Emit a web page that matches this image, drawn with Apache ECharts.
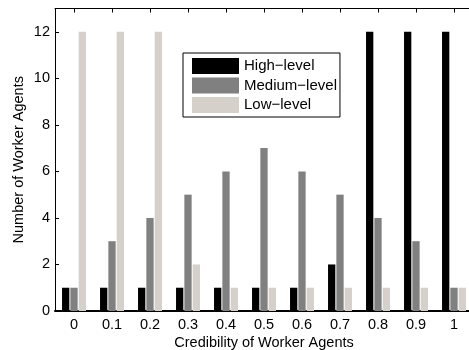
<!DOCTYPE html>
<html><head><meta charset="utf-8">
<script src="https://cdn.jsdelivr.net/npm/echarts@6/dist/echarts.min.js"></script>
<style>html,body{margin:0;padding:0;background:#fff}#c{width:469px;height:350px}</style>
</head><body><div id="c"></div>
<script>
const categories = ['0','0.1','0.2','0.3','0.4','0.5','0.6','0.7','0.8','0.9','1'];
const highLevel = [1,1,1,1,1,1,1,2,12,12,12];
const mediumLevel = [1,3,4,5,6,7,6,5,4,3,1];
const lowLevel = [12,12,12,2,1,1,1,1,1,1,1];
const yTicks = [0,2,4,6,8,10,12];

const font = 'Liberation Sans, Arial, Helvetica, sans-serif';
const fs = 14.5;
const chart = echarts.init(document.getElementById('c'), null, {renderer:'canvas'});
const tickCfg = {show:true, inside:true, length:4, lineStyle:{color:'#000', width:1}};
chart.setOption({
  animation:false,
  backgroundColor:'#fff',
  grid:{left:55, right:-4, top:8.5, bottom:39, containLabel:false, outerBoundsMode:'none'},
  legend:{
    orient:'vertical', left:183, top:53,
    backgroundColor:'#fff', borderColor:'#000', borderWidth:1,
    padding:[5,3,4,9], itemWidth:47, itemHeight:16, itemGap:3.5,
    icon:'rect',
    textStyle:{fontFamily:font, fontSize:15, color:'#000'},
    data:['High\u2212level','Medium\u2212level','Low\u2212level']
  },
  xAxis:[{
    type:'category', data:categories, boundaryGap:true,
    axisLine:{show:true, onZero:false, lineStyle:{color:'#000', width:2}},
    axisTick:Object.assign({alignWithLabel:true}, tickCfg),
    axisLabel:{fontFamily:font, fontSize:fs, color:'#000', margin:6},
    name:'Credibility of Worker Agents', nameLocation:'middle', nameGap:24, nameMoveOverlap:false,
    nameTextStyle:{fontFamily:font, fontSize:fs, color:'#000'},
    splitLine:{show:false}
  },{
    type:'category', data:categories, position:'top', boundaryGap:true,
    axisLine:{show:true, onZero:false, lineStyle:{color:'#000', width:1}},
    axisTick:Object.assign({alignWithLabel:true}, tickCfg),
    axisLabel:{show:false}, splitLine:{show:false}
  }],
  yAxis:[{
    type:'value', min:0, max:13, interval:2,
    axisLine:{show:true, lineStyle:{color:'#000', width:1}},
    axisTick:tickCfg,
    axisLabel:{fontFamily:font, fontSize:fs, color:'#000', margin:5, showMaxLabel:false,
      formatter:v=>yTicks.includes(v)?String(v):''},
    splitLine:{show:false},
    name:'Number of Worker Agents', nameLocation:'middle', nameGap:29, nameMoveOverlap:false,
    nameTextStyle:{fontFamily:font, fontSize:fs, color:'#000'}
  },{
    type:'value', min:0, max:13, interval:2, position:'right',
    axisLine:{show:true, lineStyle:{color:'#000', width:1}},
    axisTick:tickCfg, axisLabel:{show:false}, splitLine:{show:false}
  }],
  series:[
    {name:'High\u2212level', type:'bar', data:highLevel, barWidth:7.3, barGap:'14%', itemStyle:{color:'#000000'}},
    {name:'Medium\u2212level', type:'bar', data:mediumLevel, barWidth:7.3, barGap:'14%', itemStyle:{color:'#808080'}},
    {name:'Low\u2212level', type:'bar', data:lowLevel, barWidth:7.3, barGap:'14%', itemStyle:{color:'#d5d1ca'}}
  ]
});
</script></body></html>
